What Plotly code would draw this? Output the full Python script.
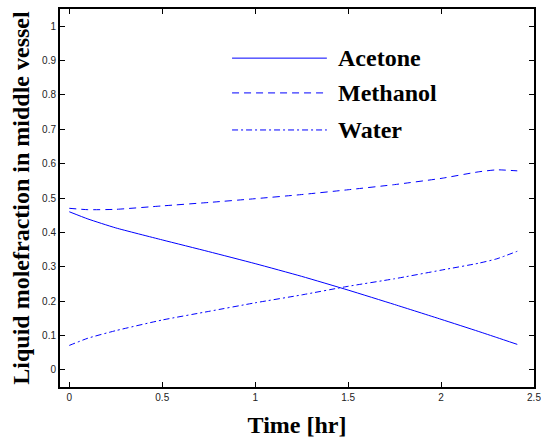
import plotly.graph_objects as go

# time axis [hr]
time_hr = [0, 0.1, 0.25, 0.5, 0.75, 1.0, 1.25, 1.5, 1.75, 2.0, 2.2, 2.3, 2.41]

# liquid mole fractions in the middle vessel
acetone = [0.460, 0.439, 0.413, 0.378, 0.344, 0.309, 0.272, 0.232, 0.190, 0.147, 0.112, 0.094, 0.074]
methanol = [0.470, 0.466, 0.467, 0.477, 0.487, 0.498, 0.510, 0.524, 0.539, 0.557, 0.576, 0.582, 0.579]
water = [0.071, 0.092, 0.114, 0.145, 0.170, 0.195, 0.218, 0.243, 0.265, 0.290, 0.310, 0.323, 0.345]

series_names = ["Acetone", "Methanol", "Water"]
x_ticks = [0, 0.5, 1, 1.5, 2, 2.5]
y_ticks = [0, 0.1, 0.2, 0.3, 0.4, 0.5, 0.6, 0.7, 0.8, 0.9, 1]

BLUE = "#0000ff"
SERIF = "Liberation Serif, Times New Roman, serif"
dashes = ["solid", "7px,5px", "6px,3px,2px,3px"]

fig = go.Figure()
for name, ys, dash in zip(series_names, [acetone, methanol, water], dashes):
    fig.add_trace(go.Scatter(
        x=time_hr, y=ys, mode="lines", name=name,
        line=dict(color=BLUE, width=1, dash=dash, shape="spline", smoothing=0.5),
        showlegend=False,
    ))

# hand-drawn legend (long line samples like the original)
legend_y = [0.870, 0.778, 0.680]
for name, dash, ly in zip(series_names, dashes, legend_y):
    fig.add_shape(type="line", xref="paper", yref="paper",
                  x0=0.363, x1=0.563, y0=ly, y1=ly,
                  line=dict(color=BLUE, width=1, dash=dash))
    fig.add_annotation(xref="paper", yref="paper", x=0.582, y=ly,
                       xanchor="left", yanchor="middle", text="<b>%s</b>" % name, showarrow=False,
                       font=dict(family=SERIF, size=24, color="black"))

axis_common = dict(
    showline=True, linecolor="black", linewidth=2, mirror="ticks",
    ticks="inside", ticklen=5, tickcolor="black", tickwidth=1,
    showgrid=False, zeroline=False, ticklabeloverflow="allow",
    tickfont=dict(family="Liberation Sans", size=10, color="#222"),
)

fig.update_xaxes(range=[-0.05, 2.5], tickvals=x_ticks, **axis_common,
                 title=dict(text="<b>Time [hr]</b>", standoff=14,
                            font=dict(family=SERIF, size=24, color="black")))
fig.update_yaxes(range=[-0.05, 1.05], tickvals=y_ticks, **axis_common,
                 title=dict(text="<b>Liquid molefraction in middle vessel</b>", standoff=6,
                            font=dict(family=SERIF, size=24, color="black")))

fig.update_layout(
    width=541, height=445,
    margin=dict(l=60, r=7, t=9, b=58, autoexpand=False),
    plot_bgcolor="white", paper_bgcolor="white",
)

fig.write_html("out.html", config={"displayModeBar": False},
               post_script="document.body.style.margin='0';document.body.style.overflow='hidden';")
